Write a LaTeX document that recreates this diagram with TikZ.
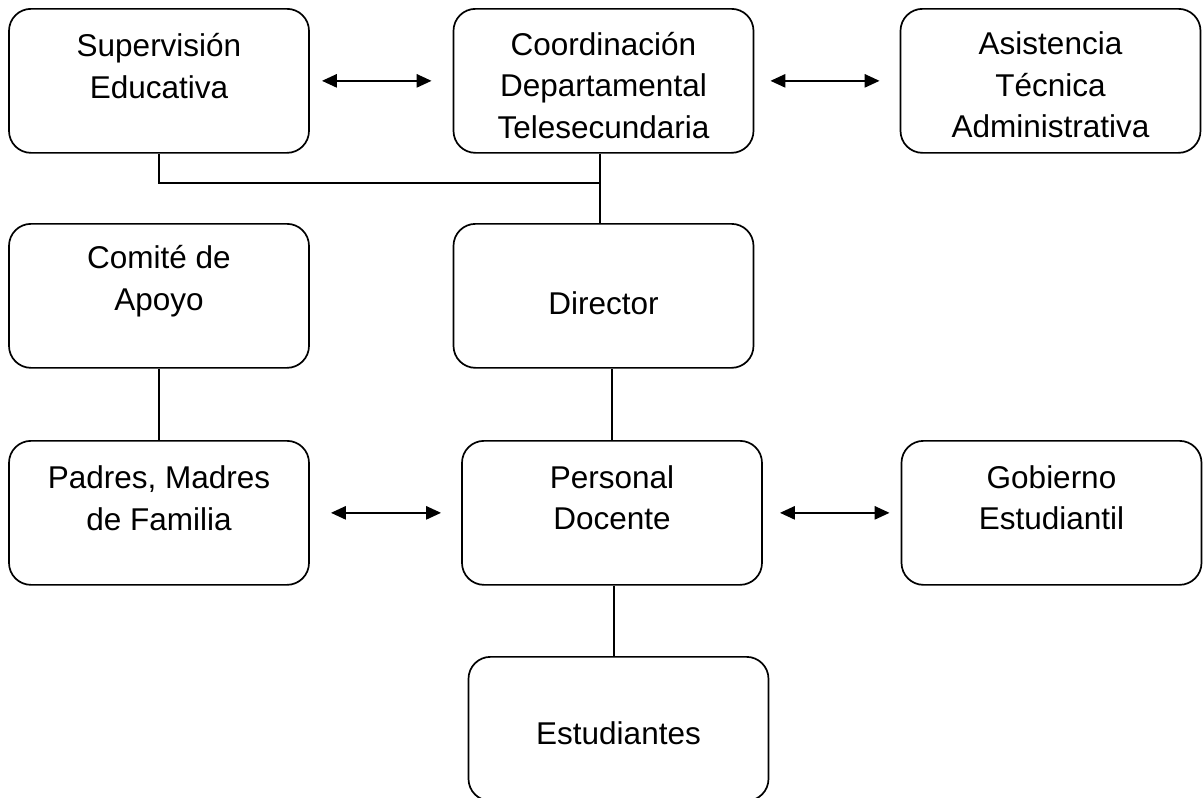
\documentclass[tikz,border=0pt]{standalone}
\usepackage{fontspec}
\setmainfont{Liberation Sans}
\usetikzlibrary{arrows.meta}
\begin{document}
\begin{tikzpicture}[x=1pt,y=-1pt,
  box/.style={draw=black, line width=1.7pt, rounded corners=22pt, minimum width=300pt, minimum height=144pt, inner sep=0pt, anchor=north},
  txt/.style={align=center, inner sep=0pt, font=\fontsize{31.5}{41.5}\selectfont},
  link/.style={draw=black, line width=1.4pt},
  dbl/.style={draw=black, line width=2.6pt, {Triangle[length=15pt,width=13pt]}-{Triangle[length=15pt,width=13pt]}}]
\useasboundingbox (0,0) rectangle (1203,798);
% boxes
\node[box] (sup) at (159,8) {};
\node[box] (coo) at (603.5,8) {};
\node[box] (asi) at (1050.5,8) {};
\node[box] (com) at (159,223) {};
\node[box] (dir) at (603.5,223) {};
\node[box] (pad) at (159,440) {};
\node[box] (per) at (612,440) {};
\node[box] (gob) at (1051.5,440) {};
\node[box] (est) at (618.5,656) {};
% texts
\node[txt] (supt) at (159,66) {Supervisión\\Educativa};
\node[txt] (coot) at (603.5,85.5) {Coordinación\\Departamental\\Telesecundaria};
\node[txt] (asit) at (1050.5,85) {Asistencia\\Técnica\\Administrativa};
\node[txt] (comt) at (159,281) {Comité de\\Apoyo};
\node[txt] (dirt) at (603.5,303) {Director};
\node[txt] (padt) at (159,498) {Padres, Madres\\de Familia};
\node[txt] (pert) at (612,497.5) {Personal\\Docente};
\node[txt] (gobt) at (1051.5,497.5) {Gobierno\\Estudiantil};
\node[txt] (estt) at (618.5,733) {Estudiantes};
% connectors
\coordinate (j) at (600,183);
\draw[link] (sup.south) |- (j);
\draw[link] (j |- coo.south) -- (j |- dir.north);
\draw[link] (com.south) -- (pad.north);
\draw[link] (per.north) -- (per.north |- dir.south);
\draw[link] ([xshift=2pt]per.south) -- ([xshift=2pt]per.south |- est.north);
% double arrows
\draw[dbl, shorten <=12pt, shorten >=21pt] (sup.east) -- (coo.west);
\draw[dbl, shorten <=16pt, shorten >=20pt] (coo.east) -- (asi.west);
\draw[dbl, shorten <=21pt, shorten >=20pt] (pad.east) -- (per.west);
\draw[dbl, shorten <=17pt, shorten >=11pt] (per.east) -- (gob.west);
\end{tikzpicture}
\end{document}
